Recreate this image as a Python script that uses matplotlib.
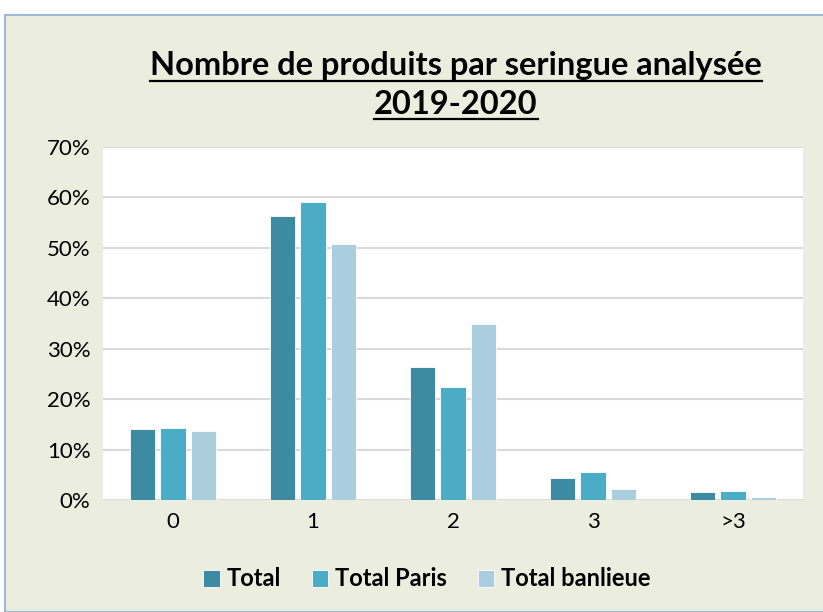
import matplotlib
matplotlib.use('Agg')
import matplotlib.pyplot as plt
import matplotlib.patches as mpatches
import numpy as np

categories = ['0', '1', '2', '3', '>3']
total = [14.0, 56.4, 26.3, 4.3, 1.5]
paris = [14.2, 59.0, 22.4, 5.5, 1.7]
banlieue = [13.6, 50.7, 34.9, 2.2, 0.5]
series_names = ['Total', 'Total Paris', 'Total banlieue']
colors = ['#3C8BA3', '#4BACC6', '#AACEDD']

plt.rcParams['font.family'] = ['Lato', 'DejaVu Sans']

fig = plt.figure(figsize=(8.23, 6.12), dpi=100)
fig.patch.set_facecolor('white')
# beige chart frame with thin blue border
frame = mpatches.Rectangle((5/823, 0), 1, 1 - 15/612, transform=fig.transFigure,
                           facecolor='#EBEEDF', edgecolor='#9DB8D9', lw=1.5, zorder=-10)
fig.patches.append(frame)

ax = fig.add_axes([103/823, 1 - 500/612, 700/823, 353/612])
ax.set_facecolor('white')

x = np.arange(len(categories))
w = 0.18
step = 0.22
for i, (vals, name) in enumerate(zip([total, paris, banlieue], series_names)):
    ax.bar(x + (i - 1) * step, vals, width=w, color=colors[i], label=name,
           edgecolor='white', linewidth=0.6, zorder=3)

ax.set_xlim(-0.5, 4.5)
ax.set_ylim(0, 70)
ax.set_yticks(range(0, 71, 10))
ax.set_yticklabels([f'{v}%' for v in range(0, 71, 10)], fontsize=16)
ax.set_xticks(x)
ax.set_xticklabels(categories, fontsize=16)
ax.tick_params(length=0, pad=9)
ax.grid(axis='y', color='#D9D9D9', lw=1.5, zorder=0)
for s in ax.spines.values():
    s.set_visible(False)

t1 = fig.text(456/823, 1 - 66/612, 'Nombre de produits par seringue analysée',
              ha='center', va='center', fontsize=21, fontweight='bold')
t2 = fig.text(456/823, 1 - 104/612, '2019-2020',
              ha='center', va='center', fontsize=21, fontweight='bold')

leg = fig.legend(loc='center', bbox_to_anchor=(427/823, 1 - 579/612), ncol=3,
                 frameon=False, handlelength=0.7, handleheight=0.7,
                 columnspacing=1.3, handletextpad=0.3,
                 prop={'weight': 'bold', 'size': 17})

# fit title to the reference width (about 613 px), then underline
fig.canvas.draw()
r = fig.canvas.get_renderer()
scale = 613 / t1.get_window_extent(r).width
t1.set_fontsize(21 * scale)
t2.set_fontsize(21 * scale)
fig.canvas.draw()
for t in (t1, t2):
    bb = t.get_window_extent(r).transformed(fig.transFigure.inverted())
    fig.add_artist(plt.Line2D([bb.x0, bb.x1], [bb.y0 - 0.001, bb.y0 - 0.001],
                              transform=fig.transFigure, color='black', lw=1.6))

fig.savefig('out.png', dpi=100, facecolor=fig.get_facecolor())
